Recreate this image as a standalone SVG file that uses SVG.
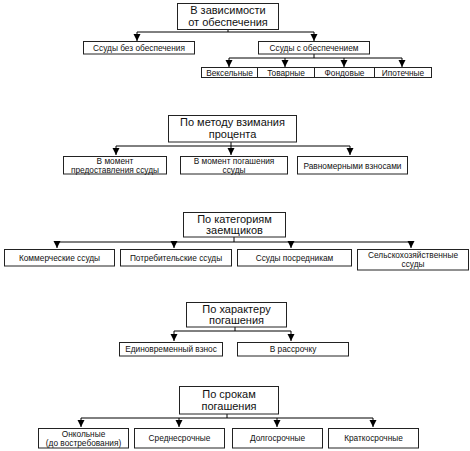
<svg xmlns="http://www.w3.org/2000/svg" width="470" height="451" viewBox="0 0 470 451">
<defs>
<style>
rect{fill:#fff;stroke:#222;stroke-width:1}
.c line{stroke:#000;stroke-width:1}
.a{marker-end:url(#ah)}
text{font-family:"Liberation Sans",Arial,sans-serif;fill:#111;text-anchor:middle}
.t{font-size:11px}
.s{font-size:8.3px}
</style>
<marker id="ah" markerUnits="userSpaceOnUse" markerWidth="7" markerHeight="8" refX="7" refY="3.5" orient="auto" viewBox="0 0 7 7"><path d="M0,0 L7,3.5 L0,7 z" fill="#000"/></marker>
</defs>
<rect x="0" y="0" width="470" height="451" style="stroke:none"/>
<g class="c" id="connectors">
<line x1="228" y1="29" x2="228" y2="32"/>
<line x1="137" y1="32" x2="314" y2="32"/>
<line class="a" x1="137" y1="32" x2="137" y2="41"/>
<line class="a" x1="314" y1="32" x2="314" y2="41"/>
<line x1="314" y1="54" x2="314" y2="58"/>
<line x1="229" y1="58" x2="402" y2="58"/>
<line class="a" x1="229" y1="58" x2="229" y2="67"/>
<line class="a" x1="285" y1="58" x2="285" y2="67"/>
<line class="a" x1="344" y1="58" x2="344" y2="67"/>
<line class="a" x1="402" y1="58" x2="402" y2="67"/>
<line x1="231" y1="142" x2="231" y2="146"/>
<line x1="116" y1="146" x2="350" y2="146"/>
<line class="a" x1="116" y1="146" x2="116" y2="155"/>
<line class="a" x1="231" y1="146" x2="231" y2="155"/>
<line class="a" x1="350" y1="146" x2="350" y2="155"/>
<line x1="234" y1="237" x2="234" y2="242"/>
<line x1="57" y1="242" x2="411" y2="242"/>
<line class="a" x1="57" y1="242" x2="57" y2="248"/>
<line class="a" x1="174" y1="242" x2="174" y2="248"/>
<line class="a" x1="291" y1="242" x2="291" y2="248"/>
<line class="a" x1="411" y1="242" x2="411" y2="248"/>
<line x1="235" y1="327" x2="235" y2="331"/>
<line x1="174" y1="331" x2="291" y2="331"/>
<line class="a" x1="174" y1="331" x2="174" y2="341"/>
<line class="a" x1="291" y1="331" x2="291" y2="341"/>
<line x1="227" y1="414" x2="227" y2="418"/>
<line x1="81" y1="418" x2="373" y2="418"/>
<line class="a" x1="81" y1="418" x2="81" y2="427"/>
<line class="a" x1="179" y1="418" x2="179" y2="427"/>
<line class="a" x1="277" y1="418" x2="277" y2="427"/>
<line class="a" x1="373" y1="418" x2="373" y2="427"/>
</g>
<g id="n1"><rect x="177.5" y="3.5" width="101" height="26"/><text class="t" x="228" y="14">В зависимости</text><text class="t" x="228" y="26">от обеспечения</text></g>
<g id="n1a"><rect x="83.5" y="41.5" width="111" height="12.5"/><text class="s" x="139" y="51">Ссуды без обеспечения</text></g>
<g id="n1b"><rect x="258.5" y="41.5" width="111" height="12.5"/><text class="s" x="314" y="51">Ссуды с обеспечением</text></g>
<g id="n1b1"><rect x="201.5" y="67.5" width="56" height="10"/><text class="s" x="229.5" y="76">Вексельные</text></g>
<g id="n1b2"><rect x="257.5" y="67.5" width="57" height="10"/><text class="s" x="286" y="76">Товарные</text></g>
<g id="n1b3"><rect x="314.5" y="67.5" width="60" height="10"/><text class="s" x="344.5" y="76">Фондовые</text></g>
<g id="n1b4"><rect x="374.5" y="67.5" width="57" height="10"/><text class="s" x="403" y="76">Ипотечные</text></g>

<g id="n2"><rect x="168.5" y="115.5" width="128" height="26.5"/><text class="t" x="232.5" y="126">По методу взимания</text><text class="t" x="232.5" y="138">процента</text></g>
<g id="n2a"><rect x="63.5" y="156.5" width="103" height="17.5"/><text class="s" x="115" y="164">В момент</text><text class="s" x="115" y="173">предоставления ссуды</text></g>
<g id="n2b"><rect x="180.5" y="156.5" width="107" height="17.5"/><text class="s" x="234" y="164">В момент погашения</text><text class="s" x="234" y="173">ссуды</text></g>
<g id="n2c"><rect x="297.5" y="156.5" width="110" height="17.5"/><text class="s" x="352.5" y="168.5">Равномерными взносами</text></g>

<g id="n3"><rect x="183.5" y="212.5" width="102" height="24.5"/><text class="t" x="234.5" y="222.5">По категориям</text><text class="t" x="234.5" y="234">заемщиков</text></g>
<g id="n3a"><rect x="4.5" y="249.5" width="110" height="16.5"/><text class="s" x="59.5" y="261">Коммерческие ссуды</text></g>
<g id="n3b"><rect x="120.5" y="249.5" width="111" height="16.5"/><text class="s" x="176" y="261">Потребительские ссуды</text></g>
<g id="n3c"><rect x="237.5" y="249.5" width="114" height="16.5"/><text class="s" x="294.5" y="261">Ссуды посредникам</text></g>
<g id="n3d"><rect x="357.5" y="249.5" width="111" height="20.5"/><text class="s" x="413" y="258">Сельскохозяйственные</text><text class="s" x="413" y="267">ссуды</text></g>

<g id="n4"><rect x="186.5" y="302.5" width="100" height="24.5"/><text class="t" x="236.5" y="312.5">По характеру</text><text class="t" x="236.5" y="324">погашения</text></g>
<g id="n4a"><rect x="119.5" y="342.5" width="103" height="13.5"/><text class="s" x="171" y="352">Единовременный взнос</text></g>
<g id="n4b"><rect x="237.5" y="342.5" width="111" height="13.5"/><text class="s" x="293" y="352">В рассрочку</text></g>

<g id="n5"><rect x="179.5" y="386.5" width="99" height="27.5"/><text class="t" x="229" y="398">По срокам</text><text class="t" x="229" y="410">погашения</text></g>
<g id="n5a"><rect x="38.5" y="428.5" width="90" height="19.5"/><text class="s" x="83.5" y="436.5">Онкольные</text><text class="s" x="83.5" y="445.5">(до востребования)</text></g>
<g id="n5b"><rect x="134.5" y="428.5" width="90" height="19.5"/><text class="s" x="179.5" y="441">Среднесрочные</text></g>
<g id="n5c"><rect x="232.5" y="428.5" width="90" height="19.5"/><text class="s" x="277.5" y="441">Долгосрочные</text></g>
<g id="n5d"><rect x="328.5" y="428.5" width="90" height="19.5"/><text class="s" x="373.5" y="441">Краткосрочные</text></g>
</svg>
